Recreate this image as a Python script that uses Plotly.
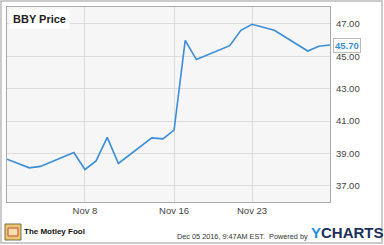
import plotly.graph_objects as go

dates = ["2016-11-01", "2016-11-02", "2016-11-03", "2016-11-04", "2016-11-07",
         "2016-11-08", "2016-11-09", "2016-11-10", "2016-11-11", "2016-11-14",
         "2016-11-15", "2016-11-16", "2016-11-17", "2016-11-18", "2016-11-21",
         "2016-11-22", "2016-11-23", "2016-11-25", "2016-11-28", "2016-11-29",
         "2016-11-30"]
prices = [38.65, 38.40, 38.11, 38.20, 39.06, 38.01, 38.54, 39.99, 38.38, 39.96,
          39.90, 40.44, 45.99, 44.80, 45.66, 46.61, 46.98, 46.61, 45.33, 45.62,
          45.70]
y_ticks = [37, 39, 41, 43, 45, 47]
y_tick_labels = ["37.00", "39.00", "41.00", "43.00", "45.00", "47.00"]
x_ticks = ["2016-11-08", "2016-11-16", "2016-11-23"]
x_tick_labels = ["Nov 8", "Nov 16", "Nov 23"]
series_name = "BBY Price"
last_label = "45.70"

W, H = 384, 245
L, R, T, B = 7, 54, 7, 43

fig = go.Figure()
fig.add_trace(go.Scatter(x=dates, y=prices, mode="lines",
                         line=dict(color="#3a8dd6", width=1.6),
                         name=series_name, hoverinfo="skip"))

fig.update_layout(
    width=W, height=H,
    margin=dict(l=L, r=R, t=T, b=B),
    paper_bgcolor="white",
    plot_bgcolor="#f6f6f6",
    showlegend=False,
    font=dict(family="Liberation Sans, Arial, sans-serif", color="#333333", size=10),
    xaxis=dict(range=["2016-11-01", "2016-11-30"], tickvals=x_ticks,
               ticktext=x_tick_labels, showgrid=True, gridcolor="#dcdcdc",
               gridwidth=1, zeroline=False, showline=True, linecolor="#aaaaaa",
               linewidth=1, mirror=True, ticks="", tickfont=dict(size=9.5, color="#444")),
    yaxis=dict(range=[36.0, 48.05], tickvals=y_ticks, ticktext=y_tick_labels,
               side="right", showgrid=True, gridcolor="#dcdcdc", gridwidth=1,
               zeroline=False, showline=True, linecolor="#aaaaaa", linewidth=1,
               mirror=True, ticks="outside", ticklen=3, tickcolor="rgba(0,0,0,0)",
               tickfont=dict(size=9.5, color="#444")),
)

# title box inside plot
fig.add_annotation(xref="paper", yref="paper", x=0, y=1, xanchor="left", yanchor="top",
                   text="<b>" + series_name + "</b>", showarrow=False,
                   bgcolor="white", font=dict(size=11, color="#222"),
                   xshift=2, yshift=-2, borderpad=3)

# last value label
fig.add_annotation(xref="paper", yref="y", x=1, y=prices[-1], xanchor="left",
                   yanchor="middle", text="<b>" + last_label + "</b>", showarrow=False,
                   bgcolor="white", bordercolor="#bbbbbb", borderwidth=1, borderpad=1,
                   font=dict(size=9.5, color="#3a8dd6"), xshift=3)

# outer frame
fig.add_shape(type="rect", xref="paper", yref="paper",
              x0=-L / (W - L - R) + 1 / (W - L - R), x1=1 + (R - 2) / (W - L - R),
              y0=-(B - 2) / (H - T - B), y1=1 + (T - 1) / (H - T - B),
              line=dict(color="#bbbbbb", width=1.5), layer="below")

# Motley Fool logo
px = lambda v: (v - L) / (W - L - R)
py = lambda v: (H - B - v) / (H - T - B)
fig.add_shape(type="rect", xref="paper", yref="paper",
              x0=px(5), x1=px(21), y0=py(240), y1=py(224),
              fillcolor="#e8c86a", line=dict(color="#7a6a4a", width=1))
fig.add_shape(type="rect", xref="paper", yref="paper",
              x0=px(8), x1=px(18), y0=py(236), y1=py(228),
              fillcolor="#f3e0a8", line=dict(color="#c44", width=1))
fig.add_annotation(xref="paper", yref="paper", x=px(22), y=py(232),
                   xanchor="left", yanchor="middle", showarrow=False,
                   text="<b>The Motley Fool</b>",
                   font=dict(size=8, color="#111"))

fig.add_annotation(xref="paper", yref="paper", x=px(310), y=py(236),
                   xanchor="right", yanchor="middle", showarrow=False,
                   text="Dec 05 2016, 9:47AM EST.  Powered by",
                   font=dict(size=7.3, color="#333"))
fig.add_annotation(xref="paper", yref="paper", x=px(309), y=py(233),
                   xanchor="left", yanchor="middle", showarrow=False,
                   text="<b><span style='color:#1f8ee0'>Y</span><span style='color:#1c2f5a'>CHARTS</span></b>",
                   font=dict(size=15, family="Liberation Sans, Arial, sans-serif"))

fig.write_html("out.html")
